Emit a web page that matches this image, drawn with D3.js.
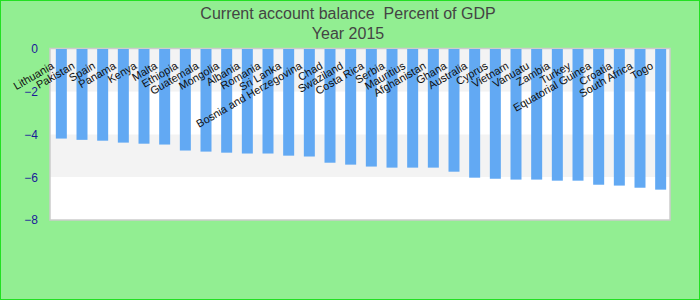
<!DOCTYPE html>
<html>
<head>
<meta charset="utf-8">
<script src="https://cdn.jsdelivr.net/npm/d3@7"></script>
<style>
  body { margin: 0; padding: 0; }
  svg { display: block; font-family: "Liberation Sans", Arial, sans-serif; }
</style>
</head>
<body>
<svg id="chart" width="700" height="300"></svg>
<script>
// data
let countries = ["Lithuania", "Pakistan", "Spain", "Panama", "Kenya", "Malta", "Ethiopia",
  "Guatemala", "Mongolia", "Albania", "Romania", "Sri Lanka", "Bosnia and Herzegovina",
  "Chad", "Swaziland", "Costa Rica", "Serbia", "Mauritius", "Afghanistan", "Ghana",
  "Australia", "Cyprus", "Vietnam", "Vanuatu", "Zambia", "Turkey", "Equatorial Guinea",
  "Croatia", "South Africa", "Togo"];
let balance = [-4.19, -4.25, -4.29, -4.38, -4.43, -4.47, -4.75, -4.80, -4.85, -4.89,
  -4.89, -4.99, -5.03, -5.32, -5.41, -5.50, -5.55, -5.55, -5.55, -5.74,
  -6.02, -6.07, -6.11, -6.11, -6.16, -6.16, -6.35, -6.39, -6.49, -6.58];
let yTicks = [0, -2, -4, -6, -8];
let titleLines = ["Current account balance\u00a0 Percent of GDP", "Year 2015"];

var DrawBarChart = function(){
  let svg = d3.select("#chart");
  let plot = {left: 50, right: 670, top: 48.5, bottom: 220};

  // page background + outer frame
  svg.append("rect")
    .attr("x", 0.5).attr("y", 0.5)
    .attr("width", 699).attr("height", 299)
    .attr("fill", "#92ee92")
    .attr("stroke", "#22e022")
    .attr("stroke-width", 1);

  let x = d3.scaleBand()
    .domain(countries)
    .range([51, 671])
    .paddingInner(0.468)
    .paddingOuter(0.234);

  let y = d3.scaleLinear()
    .domain([-8, 0])
    .range([plot.bottom, plot.top + 0.5]);

  // plot area with alternating bands
  svg.append("rect")
    .attr("x", plot.left).attr("y", plot.top)
    .attr("width", plot.right - plot.left)
    .attr("height", plot.bottom - plot.top)
    .attr("fill", "#ffffff");

  let bands = yTicks.slice(0, -1).map((t, i) => [t, yTicks[i + 1]]);
  svg.append("g")
    .selectAll("rect")
    .data(bands)
    .enter()
    .append("rect")
    .attr("x", plot.left)
    .attr("y", d => y(d[0]))
    .attr("width", plot.right - plot.left)
    .attr("height", d => y(d[1]) - y(d[0]))
    .attr("fill", (d, i) => i % 2 == 0 ? "#f3f3f3" : "#ffffff");

  svg.append("rect")
    .attr("x", plot.left).attr("y", plot.top)
    .attr("width", plot.right - plot.left)
    .attr("height", plot.bottom - plot.top)
    .attr("fill", "none")
    .attr("stroke", "#cccccc")
    .attr("stroke-width", 1.5);

  // bars
  svg.append("g")
    .selectAll("rect")
    .data(countries)
    .enter()
    .append("rect")
    .attr("x", d => x(d))
    .attr("y", y(0))
    .attr("width", x.bandwidth())
    .attr("height", (d, i) => y(balance[i]) - y(0))
    .attr("fill", "#62a9f3");

  // y axis, labels only
  let yAxis = d3.axisLeft(y).tickValues(yTicks).tickSize(0).tickPadding(0);
  let ga = svg.append("g")
    .attr("transform", "translate(38,0)")
    .call(yAxis);
  ga.select(".domain").remove();
  ga.selectAll("text")
    .attr("fill", "#1a1a99")
    .style("font-size", "12px")
    .style("font-family", "Liberation Sans, Arial, sans-serif");

  // slanted category labels near the top of the bars
  svg.append("g")
    .selectAll("text")
    .data(countries)
    .enter()
    .append("text")
    .attr("transform", d => "translate(" + (x(d) + x.bandwidth() / 2 - 6.5) + ",68) rotate(-30)")
    .attr("text-anchor", "end")
    .style("font-size", "11px")
    .attr("fill", "#111111")
    .text(d => d);

  // title
  svg.append("g")
    .selectAll("text")
    .data(titleLines)
    .enter()
    .append("text")
    .attr("x", 348)
    .attr("y", (d, i) => 19 + i * 20)
    .attr("text-anchor", "middle")
    .style("font-size", "16px")
    .attr("fill", "#444444")
    .text(d => d);
}
DrawBarChart();
</script>
</body>
</html>
